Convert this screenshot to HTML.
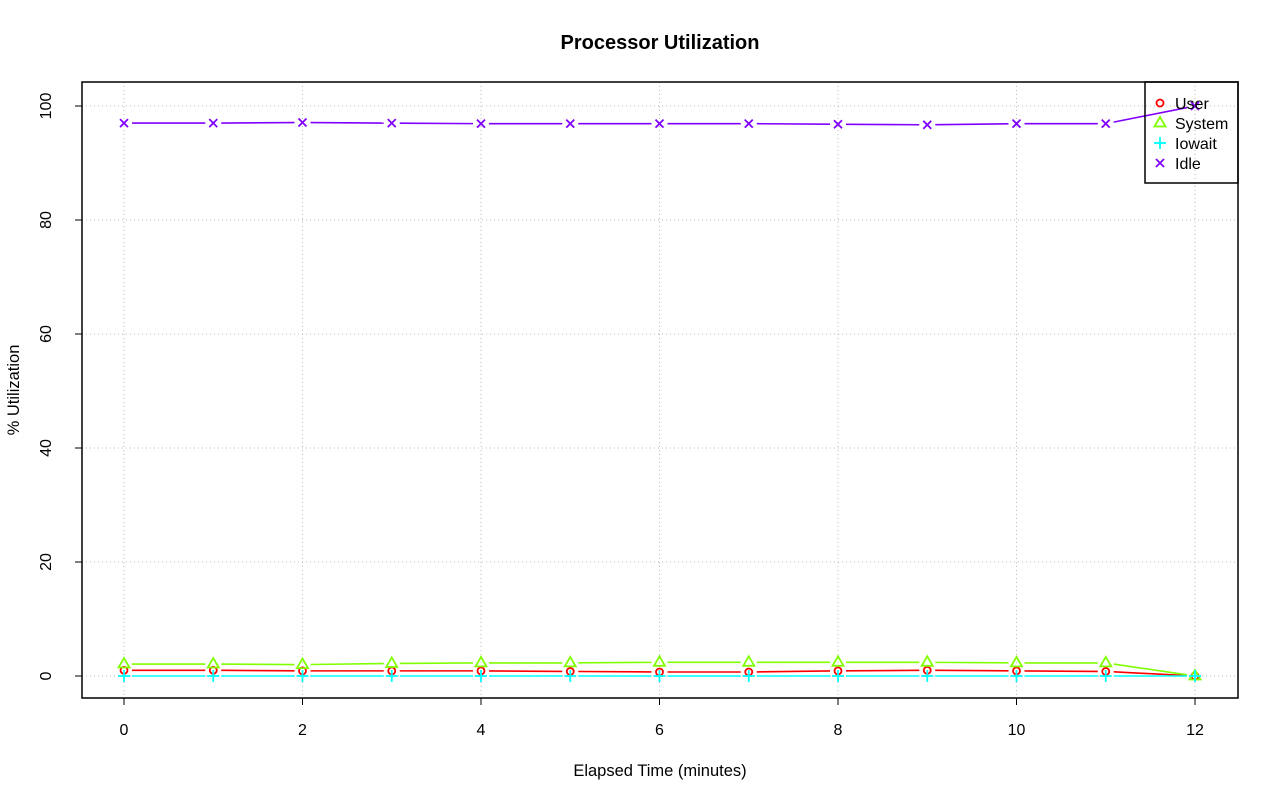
<!DOCTYPE html>
<html><head><meta charset="utf-8"><style>html,body{margin:0;padding:0;background:#fff}svg{display:block}</style></head>
<body>
<svg id="s" width="1280" height="801" xmlns="http://www.w3.org/2000/svg" font-family="Liberation Sans, sans-serif">
<rect width="1280" height="801" fill="#fff"/>
<text x="660" y="49" text-anchor="middle" font-size="20" font-weight="bold">Processor Utilization</text>
<text x="660" y="776" text-anchor="middle" font-size="16.5">Elapsed Time (minutes)</text>
<text transform="translate(19,390) rotate(-90)" text-anchor="middle" font-size="16.5">% Utilization</text>
<g id="grid" stroke="#bbb" stroke-dasharray="1,3" stroke-width="1"></g>
<g id="series"></g>
<rect x="82" y="82" width="1156" height="616" fill="none" stroke="#000" stroke-width="1.5"/>
<g id="ax" font-size="16"></g>
<g id="leg"></g>
</svg>
<script>
const NS="http://www.w3.org/2000/svg";
const X=v=>124+v*89.25, Y=v=>676-v*5.7;
function el(p,t,a,txt){const e=document.createElementNS(NS,t);for(const k in a)e.setAttribute(k,a[k]);if(txt!=null)e.textContent=txt;document.getElementById(p).appendChild(e);return e;}
for(let i=0;i<=12;i+=2){el('grid','line',{x1:X(i),x2:X(i),y1:82,y2:698});
 el('ax','line',{x1:X(i),x2:X(i),y1:698,y2:705,stroke:'#000'});
 el('ax','text',{x:X(i),y:735,'text-anchor':'middle'},i);}
for(let v=0;v<=100;v+=20){el('grid','line',{x1:82,x2:1238,y1:Y(v),y2:Y(v)});
 el('ax','line',{x1:75,x2:82,y1:Y(v),y2:Y(v),stroke:'#000'});
 el('ax','text',{transform:`translate(51,${Y(v)}) rotate(-90)`,'text-anchor':'middle'},v);}
const data=[
 ['#ff0000','o',[1.0,1.0,0.9,0.9,0.9,0.8,0.7,0.7,0.9,1.0,0.9,0.8,0]],
 ['#80ff00','t',[2.1,2.1,2.0,2.2,2.3,2.3,2.4,2.4,2.4,2.4,2.3,2.3,0]],
 ['#00ffff','p',[0,0,0,0,0,0,0,0,0,0,0,0,0]],
 ['#8000ff','x',[97.0,97.0,97.1,97.0,96.9,96.9,96.9,96.9,96.8,96.7,96.9,96.9,100]]];
function mark(g,c,m,x,y){
 if(m=='o')el(g,'circle',{cx:x,cy:y,r:3.5,fill:'none',stroke:c,'stroke-width':1.8});
 if(m=='t')el(g,'polygon',{points:`${x},${y-6} ${x-5.5},${y+3.5} ${x+5.5},${y+3.5}`,fill:'none',stroke:c,'stroke-width':1.8});
 if(m=='p'){el(g,'line',{x1:x-6,x2:x+6,y1:y,y2:y,stroke:c,'stroke-width':1.8});el(g,'line',{x1:x,x2:x,y1:y-6,y2:y+6,stroke:c,'stroke-width':1.8});}
 if(m=='x'){el(g,'line',{x1:x-4,x2:x+4,y1:y-4,y2:y+4,stroke:c,'stroke-width':1.8});el(g,'line',{x1:x-4,x2:x+4,y1:y+4,y2:y-4,stroke:c,'stroke-width':1.8});}
}
for(const [c,m,v] of data){
 for(let i=0;i<12;i++){const x1=X(i),y1=Y(v[i]),x2=X(i+1),y2=Y(v[i+1]);const dx=x2-x1,dy=y2-y1,L=Math.hypot(dx,dy),g=8;
  el('series','line',{x1:x1+dx*g/L,y1:y1+dy*g/L,x2:x2-dx*g/L,y2:y2-dy*g/L,stroke:c,'stroke-width':1.6});}
 v.forEach((y,i)=>mark('series',c,m,X(i),Y(y)));
}
el('leg','rect',{x:1145,y:82,width:93,height:101,fill:'none',stroke:'#000','stroke-width':1.5});
['User','System','Iowait','Idle'].forEach((n,i)=>{const y=103+i*20;mark('leg',data[i][0],data[i][1],1160,y);
 el('leg','text',{x:1175,y:y+6,'font-size':16},n);});
</script>
</body></html>
